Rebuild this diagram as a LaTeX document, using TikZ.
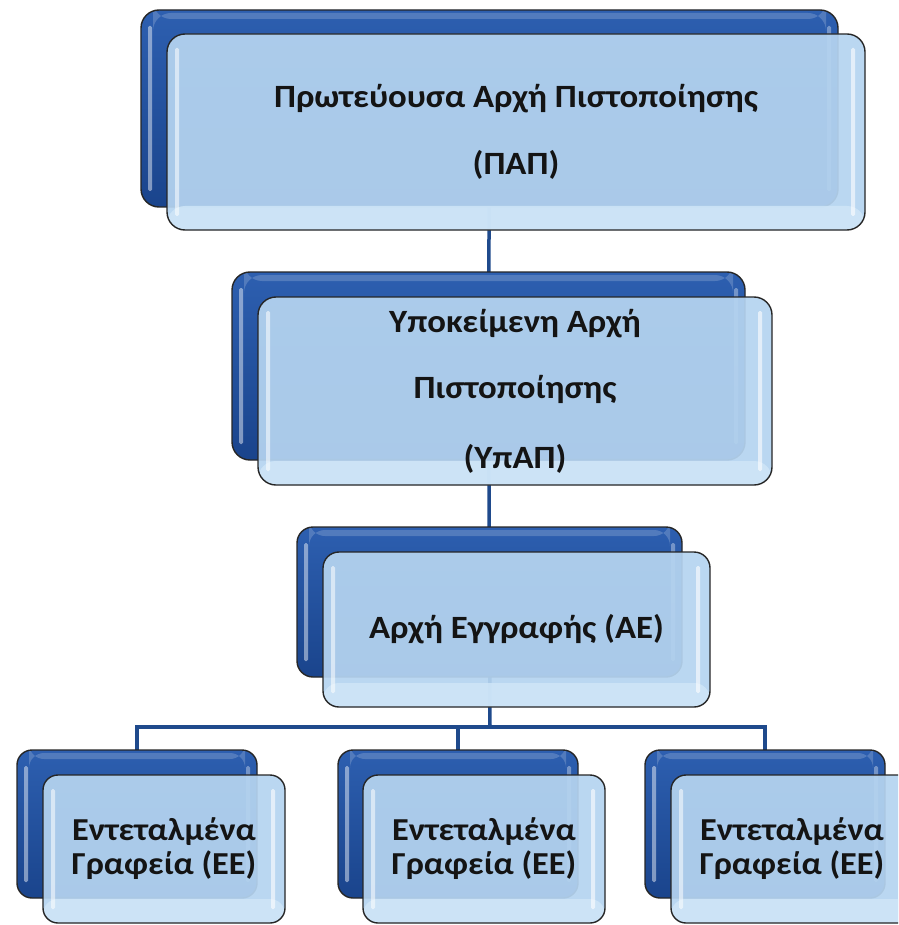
\documentclass[tikz,border=0pt]{standalone}
\usepackage{fontspec}
\setmainfont{Carlito}[FakeStretch=1.07]
\usetikzlibrary{backgrounds}
\definecolor{bbtop}{HTML}{2D5FB0}
\definecolor{bbbot}{HTML}{1A448C}
\definecolor{fblue}{HTML}{B5D4F0}
\definecolor{fband}{HTML}{CFE6F8}
\definecolor{linkblue}{HTML}{1F4A8C}
\tikzset{
  backbox/.style={draw=black!85, line width=1.4pt, rounded corners=#1,
    top color=bbtop, bottom color=bbbot, inner sep=0pt, outer sep=0pt,
    path picture={
      \fill[white,opacity=0.45,rounded corners=1.5pt]
        ([xshift=7pt,yshift=-16pt]path picture bounding box.north west) rectangle
        ([xshift=11pt,yshift=16pt]path picture bounding box.south west);
      \fill[white,opacity=0.35,rounded corners=1.5pt]
        ([xshift=-11pt,yshift=-16pt]path picture bounding box.north east) rectangle
        ([xshift=-7pt,yshift=16pt]path picture bounding box.south east);
      \fill[white,opacity=0.18]
        ([xshift=12pt,yshift=-3pt]path picture bounding box.north west) rectangle
        ([xshift=-12pt,yshift=-9pt]path picture bounding box.north east);
    }},
  backbox/.default=18pt,
  frontbox/.style={draw=black!85, line width=1.4pt, rounded corners=#1,
    fill=fblue, fill opacity=0.93, text opacity=1, inner sep=0pt, outer sep=0pt,
    align=center, text=black!92,
    path picture={
      \fill[fband,opacity=0.85]
        ([yshift=24pt]path picture bounding box.south west) rectangle
        (path picture bounding box.south east);
      \fill[white,opacity=0.55,rounded corners=1.5pt]
        ([xshift=8pt,yshift=-14pt]path picture bounding box.north west) rectangle
        ([xshift=12pt,yshift=14pt]path picture bounding box.south west);
      \fill[white,opacity=0.6,rounded corners=1.5pt]
        ([xshift=-14pt,yshift=-14pt]path picture bounding box.north east) rectangle
        ([xshift=-10pt,yshift=14pt]path picture bounding box.south east);
    }},
  frontbox/.default=18pt,
  link/.style={draw=linkblue, line width=3.5pt},
  bigtext/.style={font=\fontsize{32.5}{67}\selectfont\bfseries},
  smalltext/.style={font=\fontsize{32}{34}\selectfont\bfseries}
}
\begin{document}
\begin{tikzpicture}[x=1pt,y=-1pt]
\useasboundingbox (0,0) rectangle (898,925);
\clip (0,0) rectangle (898,925);

% top
\node[backbox, minimum width=697pt, minimum height=197pt] (papB) at (489.5,108.5) {};
\node[frontbox, bigtext, minimum width=698pt, minimum height=196pt] (papF) at (516,132)
  {\raisebox{-4pt}{Πρωτεύουσα Αρχή Πιστοποίησης}\\\raisebox{-4pt}{(ΠΑΠ)}};

% middle
\node[backbox, minimum width=513pt, minimum height=188pt] (ypapB) at (488.5,366) {};
\node[frontbox, bigtext, minimum width=514pt, minimum height=188pt] (ypapF) at (515,391)
  {\raisebox{-4pt}{Υποκείμενη Αρχή}\\\raisebox{-3pt}{Πιστοποίησης}\\\raisebox{-6pt}{(ΥπΑΠ)}};

% AE
\node[backbox=16pt, minimum width=385pt, minimum height=150pt] (aeB) at (489.5,602) {};
\node[frontbox=16pt, bigtext, minimum width=387pt, minimum height=155pt] (aeF) at (516.5,629.5)
  {Αρχή Εγγραφής (ΑΕ)};

% bottom
\node[backbox=15pt, minimum width=240pt, minimum height=148pt] (ee1B) at (137,824) {};
\node[frontbox=15pt, smalltext, minimum width=242pt, minimum height=148pt] (ee1F) at (164,849)
  {Εντεταλμένα\\Γραφεία (ΕΕ)};
\node[backbox=15pt, minimum width=240pt, minimum height=148pt] (ee2B) at (458,824) {};
\node[frontbox=15pt, smalltext, minimum width=242pt, minimum height=148pt] (ee2F) at (484,849)
  {Εντεταλμένα\\Γραφεία (ΕΕ)};
\node[backbox=15pt, minimum width=240pt, minimum height=148pt] (ee3B) at (765,824) {};
\node[frontbox=15pt, smalltext, minimum width=242pt, minimum height=148pt] (ee3F) at (792,849)
  {Εντεταλμένα\\Γραφεία (ΕΕ)};

\coordinate (bus) at (490,727);

\begin{scope}[on background layer]
  \draw[link] (papB.center) -- (ypapB.center);
  \draw[link] (ypapB.center) -- (aeB.center);
  \draw[link] (aeB.center) -- (bus);
  \draw[link] (bus) -| (ee1B.center);
  \draw[link] (bus) -| (ee2B.center);
  \draw[link] (bus) -| (ee3B.center);
\end{scope}
\end{tikzpicture}
\end{document}
